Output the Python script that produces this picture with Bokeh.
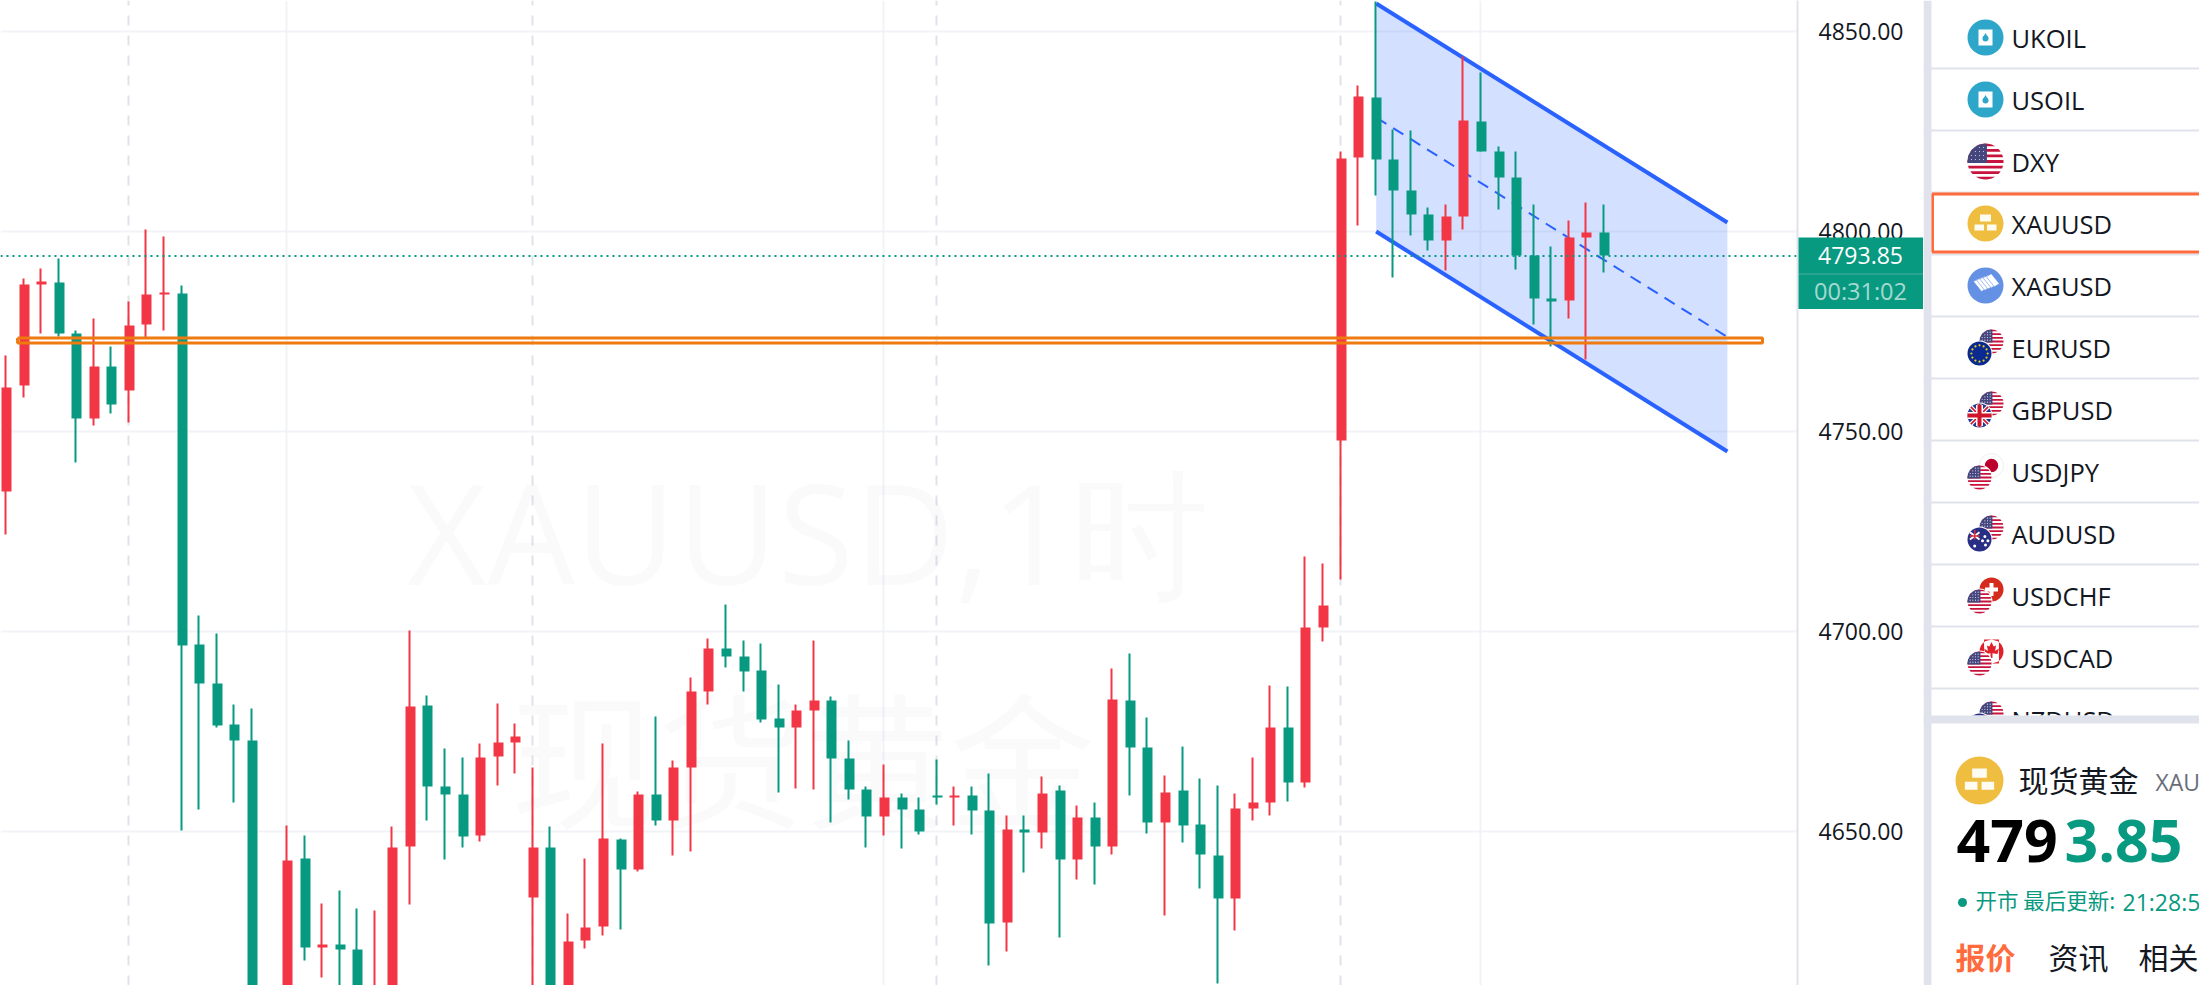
import numpy as np
from bokeh.core.properties import value
from bokeh.embed import file_html
from bokeh.layouts import row
from bokeh.models import FixedTicker, Grid, NumeralTickFormatter, Range1d
from bokeh.plotting import figure
from bokeh.resources import INLINE

# ---------- data ----------
direction = list("rrrggrgrrr" "ggggggrgrg" "grrrgggrrr" "rgrrrgrgrr" "rggggrrggg"
                 "rgggrggrgr" "grgrggrggg" "rrrgrrrrgg" "ggrrgggggr" "rg")
highs = [4769, 4788.25, 4790.75, 4793.25, 4775.25, 4778.25, 4771.25, 4782.5, 4800.5, 4798.75,
         4786.5, 4704, 4699.5, 4681.75, 4680.75, 4608, 4651.5, 4649, 4632, 4635.25,
         4630.75, 4630.25, 4651.25, 4700.25, 4684, 4670.75, 4668.5, 4672, 4682, 4677,
         4666, 4651.25, 4629.5, 4643.25, 4672, 4648.25, 4660, 4678.75, 4667.75, 4688.5,
         4698.25, 4706.75, 4697.75, 4697, 4686.75, 4681.75, 4697.75, 4683.75, 4672.75, 4661.25,
         4666.75, 4659.5, 4658.5, 4668, 4661.25, 4661.25, 4664.5, 4654, 4654, 4663.75,
         4661.5, 4656.5, 4657.25, 4690.75, 4694.5, 4678.5, 4664, 4671.25, 4663.25, 4661.5,
         4659.5, 4668.5, 4686.5, 4686.25, 4718.75, 4717, 4820, 4836.5, 4857.5, 4825.5,
         4825.25, 4806, 4806.75, 4843.75, 4839.75, 4821.25, 4820, 4806.75, 4796.25, 4802.75,
         4807.25, 4806.75]
body_tops = [4761, 4786.75, 4787.5, 4787.25, 4774.5, 4766.25, 4766.25, 4776.5, 4784.25, 4784.75,
             4784.5, 4696.75, 4687, 4676.75, 4672.75, 4606, 4642.75, 4643.25, 4621.75, 4621.75,
             4620.5, 4610, 4646, 4681.25, 4681.5, 4661.25, 4659.25, 4668.5, 4672.25, 4673.75,
             4646, 4646, 4622.5, 4626, 4648.25, 4648, 4659.25, 4659.25, 4666, 4685,
             4695.75, 4695.75, 4693.75, 4690.25, 4678.25, 4680.25, 4682.75, 4682.75, 4668.25, 4660.5,
             4658.5, 4658.5, 4655.5, 4659, 4659, 4659, 4655.25, 4650.5, 4650.5, 4659.5,
             4660.25, 4653.5, 4653.5, 4683, 4682.75, 4671, 4659.75, 4660.25, 4651.75, 4644,
             4655.75, 4657.25, 4676, 4676, 4701, 4706.5, 4818.25, 4833.75, 4833.5, 4818,
             4810.25, 4804.25, 4803.75, 4827.75, 4827.5, 4820, 4813.5, 4794, 4783.25, 4798.5,
             4799.75, 4799.75]
body_bottoms = [4735, 4761.5, 4786.75, 4774.5, 4753.25, 4753.25, 4756.75, 4760.25, 4776.75, 4784.25,
                4696.5, 4687, 4676.5, 4672.75, 4600, 4600, 4605, 4621, 4621, 4620.5,
                4607, 4600, 4600, 4646.25, 4661.25, 4659.25, 4648.75, 4649, 4668.75, 4672.25,
                4633.5, 4608, 4605, 4622.75, 4626.25, 4640.5, 4640.5, 4652.75, 4652.75, 4666,
                4685, 4693.75, 4690, 4678, 4676, 4676, 4680.25, 4668.25, 4660.5, 4653.75,
                4653.75, 4655.5, 4650, 4658.5, 4658.5, 4655.25, 4627, 4627.25, 4649.75, 4649.75,
                4643, 4643, 4646.25, 4646.25, 4671, 4652.25, 4652.25, 4651.5, 4644.25, 4633.25,
                4633.25, 4655.75, 4657.25, 4662.25, 4662.25, 4701, 4747.75, 4818.5, 4818, 4810.25,
                4804.25, 4797.75, 4797.75, 4803.75, 4820, 4813.5, 4794, 4783.25, 4782.5, 4782.75,
                4798.5, 4794]
lows = [4724.25, 4758.5, 4774.5, 4773.75, 4742.25, 4751.5, 4754.5, 4752.25, 4773.25, 4775.25,
        4650.25, 4655.5, 4676, 4657.25, 4598, 4598, 4600, 4617.75, 4613.5, 4605,
        4603, 4595, 4590, 4631.75, 4652.75, 4643, 4646, 4647.5, 4661.5, 4664.5,
        4605, 4600, 4600, 4620.75, 4624, 4625.5, 4640, 4651.5, 4644, 4645,
        4681.75, 4691, 4685, 4677.25, 4659.75, 4660.75, 4660.5, 4652.25, 4658, 4646,
        4649, 4645.75, 4649.25, 4656.75, 4651.5, 4649.25, 4616.5, 4620, 4639.75, 4645.75,
        4623.5, 4638, 4636.75, 4644.25, 4659, 4649.5, 4629, 4647.25, 4635.75, 4612,
        4625.25, 4652.75, 4654, 4657.5, 4661, 4697.5, 4713, 4801.5, 4809, 4788.5,
        4799, 4795.25, 4790.25, 4800.5, 4820, 4805.5, 4790.5, 4776.75, 4771.25, 4778.25,
        4768, 4789.75]

price_ticks = [4650, 4700, 4750, 4800, 4850]
last_price = 4793.85
countdown = "00:31:02"
channel_index = [78, 98]
channel_upper = [4857, 4802.25]
channel_lower = [4800, 4745]
zone_index = [0.63, 100]
zone_prices = [4773.4, 4772.1]
solid_grid_bars = [16, 50, 84]
dashed_grid_bars = [7, 30, 53, 76]
watch_list = ["UKOIL", "USOIL", "DXY", "XAUUSD", "XAGUSD", "EURUSD", "GBPUSD",
              "USDJPY", "AUDUSD", "USDCHF", "USDCAD", "NZDUSD"]

# ---------- styles / layout ----------
GREEN, RED = "#089981", "#f23645"
BLUE = "#2962ff"
ORANGE = "#ef7a0f"
SEP = "#e0e3eb"
ACCENT = "#ff6b3d"
LATIN = "Open Sans"
CJK = "Noto Sans CJK SC"
FRAME_W, AXIS_W, SIDE_W, H = 1797, 126, 276, 985
STEP = 17.56
ORIGIN = 6.0


def bar_pos(i):
    left = np.round(1 + STEP * np.asarray(i, dtype=float))
    return (left + 5 - ORIGIN) / STEP


WICK_SHIFT = 1 / STEP

p = figure(width=FRAME_W + AXIS_W, height=H, output_backend="svg", toolbar_location=None,
           x_axis_location=None, y_axis_location="right",
           x_range=Range1d(-ORIGIN / STEP, (FRAME_W - ORIGIN) / STEP),
           y_range=Range1d(4850 - (H - 31) / 4, 4850 + 31 / 4),
           min_border_left=0, min_border_top=0, min_border_bottom=0, min_border_right=AXIS_W)
p.outline_line_color = None
p.background_fill_color = "white"
p.border_fill_color = "white"
p.xgrid.visible = False

ax = p.yaxis[0]
ax.ticker = FixedTicker(ticks=price_ticks)
ax.formatter = NumeralTickFormatter(format="0.00")
ax.major_label_text_font = LATIN
ax.major_label_text_font_size = "23px"
ax.major_label_text_color = "#131722"
ax.major_label_standoff = 15
ax.major_tick_line_color = None
ax.minor_tick_line_color = None
ax.axis_line_color = SEP
ax.axis_line_width = 2
p.ygrid.grid_line_color = "#f2f3f7"
p.ygrid.grid_line_width = 2
p.add_layout(Grid(dimension=0, ticker=FixedTicker(ticks=list(bar_pos(solid_grid_bars) - WICK_SHIFT)),
                  grid_line_color="#f2f3f7", grid_line_width=2))
p.add_layout(Grid(dimension=0, ticker=FixedTicker(ticks=list(bar_pos(dashed_grid_bars) - WICK_SHIFT)),
                  grid_line_color=SEP, grid_line_width=2, grid_line_dash="10 10"))

# watermark
p.text(x=[22.8], y=[4725.25], text=["XAUUSD,1时"], text_font=value(LATIN), text_font_size="139px",
       text_color="#131722", text_alpha=0.02, text_baseline="middle", text_align="left")
p.text(x=[28.75], y=[4669.5], text=["现货黄金"], text_font=value(CJK), text_font_size="146px",
       text_color="#131722", text_alpha=0.02, text_baseline="middle", text_align="left")

# channel
p.patch(x=channel_index + channel_index[::-1], y=channel_upper + channel_lower[::-1],
        fill_color=BLUE, fill_alpha=0.2, line_color=None)
p.line(channel_index, channel_upper, line_color=BLUE, line_width=4)
p.line(channel_index, channel_lower, line_color=BLUE, line_width=4)
p.line(channel_index, [(a + b) / 2 for a, b in zip(channel_upper, channel_lower)],
       line_color=BLUE, line_width=2, line_dash="12 8")

# candles
idx = np.arange(len(highs))
xs = bar_pos(idx)
cols = [RED if d == "r" else GREEN for d in direction]
p.segment(x0=xs - WICK_SHIFT, x1=xs - WICK_SHIFT, y0=lows, y1=highs, line_color=cols, line_width=2)
p.vbar(x=xs, width=10 / STEP, top=body_tops, bottom=body_bottoms, fill_color=cols, line_color=None)

# horizontal zone and last-price line
p.line([zone_index[0], zone_index[1], zone_index[1], zone_index[0], zone_index[0]],
       [zone_prices[0], zone_prices[0], zone_prices[1], zone_prices[1], zone_prices[0]],
       line_color=ORANGE, line_width=3)
p.line([-ORIGIN / STEP, (FRAME_W - ORIGIN) / STEP], [last_price, last_price],
       line_color=GREEN, line_width=2, line_dash="2 4")

# ---------- price tag that sits on the axis ----------
TAG_L, TAG_W, TAG_T, TAG_H = FRAME_W + 1, AXIS_W - 1, 237, 72
tag = figure(width=TAG_W, height=TAG_H, output_backend="svg", toolbar_location=None,
             x_axis_location=None, y_axis_location=None, min_border=0,
             x_range=Range1d(TAG_L, TAG_L + TAG_W), y_range=Range1d(TAG_T + TAG_H, TAG_T),
             margin=(TAG_T, 0, 0, -TAG_W), styles={"z-index": "5", "position": "relative"})
tag.grid.visible = False
tag.outline_line_color = None
tag.background_fill_color = GREEN
tag.border_fill_color = GREEN
tag.quad(left=[TAG_L], right=[TAG_L + TAG_W], top=[273], bottom=[274], fill_color="white",
         fill_alpha=0.25, line_color=None)
tag.text(x=[1860], y=[255], text=[f"{last_price:.2f}"], text_color="white", text_font=value(LATIN),
         text_font_size="23px", text_align="center", text_baseline="middle")
tag.text(x=[1860], y=[290], text=[countdown], text_color="white", text_alpha=0.65, text_font=value(LATIN),
         text_font_size="23.5px", text_align="center", text_baseline="middle")

# ---------- side panel ----------
LEFT = FRAME_W + AXIS_W
s = figure(width=SIDE_W, height=H, output_backend="svg", toolbar_location=None,
           x_axis_location=None, y_axis_location=None,
           x_range=Range1d(LEFT, 2199), y_range=Range1d(H, 0),
           min_border=0)
s.grid.visible = False
s.outline_line_color = None
s.border_fill_color = "white"


def region(cx, cy, r, y0, y1, x0=-1e9, x1=1e9, n=14):
    ys = np.linspace(max(y0, cy - r), min(y1, cy + r), n)
    half = np.sqrt(np.maximum(r * r - (ys - cy) ** 2, 0))
    xl = np.maximum(cx - half, x0)
    xr = np.minimum(cx + half, x1)
    return list(np.r_[xl, xr[::-1]]), list(np.r_[ys, ys[::-1]])


def fill_region(cx, cy, r, y0, y1, color, x0=-1e9, x1=1e9):
    a, b = region(cx, cy, r, y0, y1, x0, x1)
    s.patch(a, b, fill_color=color, line_color=None)


def disc(cx, cy, r, color):
    s.circle(x=[cx], y=[cy], radius=r, fill_color=color, line_color=None)


def flag_us(cx, cy, r):
    disc(cx, cy, r, "white")
    for k in range(7):
        t = cy - r + 2 * r * (2 * k) / 13
        fill_region(cx, cy, r, t, t + 2 * r / 13, "#c8143c")
    fill_region(cx, cy, r, cy - r, cy + 0.08 * r, "#46467f", x1=cx + 0.08 * r)
    gx, gy = np.meshgrid(np.arange(cx - r, cx, r / 4.5), np.arange(cy - r, cy, r / 4.5))
    mask = (gx - cx) ** 2 + (gy - cy) ** 2 < (r * 0.95) ** 2
    s.scatter(gx[mask], gy[mask], size=1.2, color="#d8d8ea", line_color=None)


def flag_eu(cx, cy, r):
    disc(cx, cy, r, "#0b2a8f")
    a = np.linspace(0, 2 * np.pi, 12, endpoint=False)
    s.scatter(cx + 0.68 * r * np.cos(a), cy + 0.68 * r * np.sin(a), size=2.2, color="#e8d020", line_color=None)


def flag_gb(cx, cy, r):
    disc(cx, cy, r, "#1f3a8f")
    d = r * 0.72
    s.multi_line([[cx - d, cx + d], [cx - d, cx + d]], [[cy - d, cy + d], [cy + d, cy - d]],
                 line_color="white", line_width=4)
    s.multi_line([[cx - d, cx + d], [cx - d, cx + d]], [[cy - d, cy + d], [cy + d, cy - d]],
                 line_color="#cf142b", line_width=1.5)
    fill_region(cx, cy, r, cy - 3.5, cy + 3.5, "white")
    fill_region(cx, cy, r, cy - r, cy + r, "white", x0=cx - 3.5, x1=cx + 3.5)
    fill_region(cx, cy, r, cy - 2, cy + 2, "#cf142b")
    fill_region(cx, cy, r, cy - r, cy + r, "#cf142b", x0=cx - 2, x1=cx + 2)


def flag_jp(cx, cy, r):
    s.circle(x=[cx], y=[cy], radius=r, fill_color="white", line_color="#eeeeee", line_width=1)
    disc(cx, cy, r * 0.56, "#bc002d")


def flag_au(cx, cy, r):
    disc(cx, cy, r, "#2a2f86")
    s.multi_line([[cx - r * .8, cx], [cx - r * .8, cx]], [[cy - r * .6, cy], [cy, cy - r * .6]],
                 line_color="white", line_width=2)
    s.multi_line([[cx - r * .8, cx], [cx - r * .4, cx - r * .4]], [[cy - r * .3, cy - r * .3], [cy - r * .8, cy]],
                 line_color="#e0303a", line_width=1.5)
    px = cx + r * np.array([.45, .5, .25, .7, -.4])
    py = cy + r * np.array([-.25, .45, .1, .1, .55])
    s.scatter(px, py, size=3, color="white", line_color=None)


def flag_ch(cx, cy, r):
    disc(cx, cy, r, "#d52b1e")
    s.quad(left=[cx - 2, cx - 6.5], right=[cx + 2, cx + 6.5], top=[cy - 6.5, cy - 2], bottom=[cy + 6.5, cy + 2],
           fill_color="white", line_color=None)


def flag_ca(cx, cy, r):
    disc(cx, cy, r, "white")
    fill_region(cx, cy, r, cy - r, cy + r, "#e0202a", x1=cx - r * .62)
    fill_region(cx, cy, r, cy - r, cy + r, "#e0202a", x0=cx + r * .62)
    u = r * np.array([0, .18, .38, .3, .62, .5, .08, .08, -.08, -.08, -.5, -.62, -.3, -.38, -.18])
    v = r * np.array([-.8, -.42, -.5, -.05, -.25, .2, .15, .55, .55, .15, .2, -.25, -.05, -.5, -.42])
    s.patch(cx + u, cy + v, fill_color="#e0202a", line_color=None)


def icon_oil(cx, cy):
    disc(cx, cy, 18, "#2ea6c9")
    s.quad(left=[cx - 7], right=[cx + 7], top=[cy - 8], bottom=[cy + 8], fill_color="white", line_color=None)
    s.scatter([cx], [cy + 1], size=6, color="#2ea6c9", line_color=None)
    s.scatter([cx], [cy - 1.5], size=5, marker="triangle", color="#2ea6c9", line_color=None)


def icon_gold(cx, cy, r):
    disc(cx, cy, r, "#efbd40")
    u = r / 18
    s.quad(left=[cx - 5.5 * u, cx - 11 * u, cx + 1.5 * u], right=[cx + 5.5 * u, cx - 1.5 * u, cx + 11 * u],
           top=[cy - 9 * u, cy + 1 * u, cy + 1 * u], bottom=[cy - 2 * u, cy + 7 * u, cy + 7 * u],
           fill_color="white", fill_alpha=.93, line_color=None)


def icon_silver(cx, cy):
    disc(cx, cy, 18, "#6591e4")
    for k in range(5):
        ox = cx - 10 + k * 3.2
        oy = cy - 1 + k * -1.2
        s.patch([ox - 2, ox + 3, ox + 11, ox + 6], [oy - 3, oy - 6, oy + 4, oy + 7],
                fill_color="white", line_color="#6591e4", line_width=0.6)


ROW_H = 62
ICON_X, TEXT_X = 1985, 2011
for k in range(1, len(watch_list)):
    y = 68 + ROW_H * (k - 1)
    s.quad(left=[LEFT], right=[2199], top=[y - 1], bottom=[y + 1], fill_color=SEP, line_color=None)

for k, name in enumerate(watch_list):
    cy = 37 + ROW_H * k
    if name in ("UKOIL", "USOIL"):
        icon_oil(ICON_X, cy)
    elif name == "DXY":
        flag_us(ICON_X, cy, 18)
    elif name == "XAUUSD":
        icon_gold(ICON_X, cy, 18)
    elif name == "XAGUSD":
        icon_silver(ICON_X, cy)
    else:
        hi = (ICON_X + 6, cy - 6)
        lo = (ICON_X - 6, cy + 6)
        if name.endswith("USD"):
            flag_us(*hi, 12)
            disc(*lo, 13, "white")
            {"EUR": flag_eu, "GBP": flag_gb, "AUD": flag_au, "NZD": flag_au}[name[:3]](*lo, 12)
        else:
            {"JPY": flag_jp, "CHF": flag_ch, "CAD": flag_ca}[name[3:]](*hi, 12)
            disc(*lo, 13, "white")
            flag_us(*lo, 12)
    s.text(x=[TEXT_X], y=[cy], text=[name], text_font=value(LATIN), text_font_size="25.5px",
           text_color="#131722", text_align="left", text_baseline="middle")

s.quad(left=[LEFT + 9], right=[2210], top=[193.5], bottom=[251.5], fill_color=None,
       line_color=ACCENT, line_width=3)

# bottom panel covers the clipped last row
s.quad(left=[LEFT], right=[2199], top=[715], bottom=[H], fill_color="white", line_color=None)
s.quad(left=[LEFT], right=[2199], top=[715], bottom=[723], fill_color=SEP, line_color=None)
s.quad(left=[LEFT], right=[LEFT + 8], top=[0], bottom=[H], fill_color=SEP, line_color=None)

icon_gold(1979, 780, 24)
s.text(x=[2018], y=[778.5], text=["现货黄金"], text_font=value(CJK), text_font_size="30px",
       text_color="#131722", text_align="left", text_baseline="middle")
s.text(x=[2155], y=[781], text=["XAUUSD"], text_font=value(LATIN), text_font_size="23px",
       text_color="#6a6d78", text_align="left", text_baseline="middle")
s.text(x=[1956], y=[840], text=["479"], text_font=value(LATIN), text_font_style="bold",
       text_font_size="59px", text_color="#000000", text_align="left", text_baseline="middle")
s.text(x=[2064], y=[840], text=["3.85"], text_font=value(LATIN), text_font_style="bold",
       text_font_size="59px", text_color=GREEN, text_align="left", text_baseline="middle")
disc(1962, 902, 4.5, GREEN)
s.text(x=[1975], y=[899], text=["开市 最后更新:"], text_font=value(CJK), text_font_size="21.5px",
       text_color=GREEN, text_align="left", text_baseline="middle")
s.text(x=[2122], y=[901], text=["21:28:56"], text_font=value(LATIN), text_font_size="23px",
       text_color=GREEN, text_align="left", text_baseline="middle")
s.text(x=[1955], y=[955], text=["报价"], text_font=value(CJK), text_font_style="bold", text_font_size="30px",
       text_color=ACCENT, text_align="left", text_baseline="middle")
s.text(x=[2048], y=[955], text=["资讯"], text_font=value(CJK), text_font_size="30px",
       text_color="#131722", text_align="left", text_baseline="middle")
s.text(x=[2138], y=[955], text=["相关"], text_font=value(CJK), text_font_size="30px",
       text_color="#131722", text_align="left", text_baseline="middle")

layout = row(p, tag, s, spacing=0)
open("out.html", "w").write(file_html(layout, INLINE))
